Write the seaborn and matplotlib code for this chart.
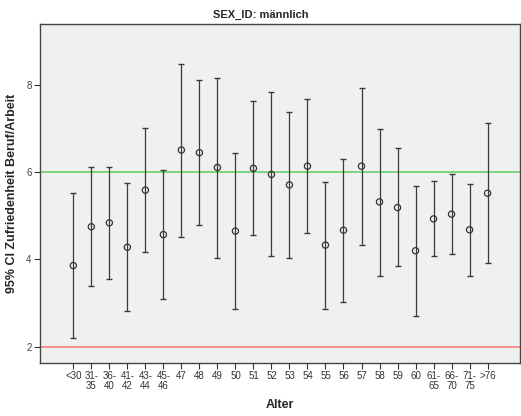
import numpy as np
import pandas as pd
import matplotlib
matplotlib.use("Agg")
import matplotlib.pyplot as plt
import seaborn as sns

categories = ["<30", "31-\n35", "36-\n40", "41-\n42", "43-\n44", "45-\n46", "47", "48", "49", "50",
              "51", "52", "53", "54", "55", "56", "57", "58", "59", "60",
              "61-\n65", "66-\n70", "71-\n75", ">76"]
means = [3.86, 4.75, 4.84, 4.28, 5.59, 4.57, 6.51, 6.45, 6.11, 4.65,
         6.09, 5.95, 5.71, 6.14, 4.33, 4.67, 6.14, 5.32, 5.19, 4.20,
         4.93, 5.04, 4.68, 5.52]
upper = [5.53, 6.11, 6.11, 5.75, 7.02, 6.05, 8.49, 8.11, 8.16, 6.44,
         7.64, 7.85, 7.39, 7.67, 5.77, 6.31, 7.93, 7.00, 6.55, 5.69,
         5.79, 5.97, 5.72, 7.14]
lower = [2.19, 3.39, 3.56, 2.81, 4.17, 3.10, 4.52, 4.80, 4.04, 2.86,
         4.55, 4.07, 4.03, 4.60, 2.87, 3.02, 4.34, 3.63, 3.84, 2.70,
         4.07, 4.12, 3.62, 3.91]
ref_lines = [6, 2]
ref_colors = ["#66d066", "#f57f7f"]
yticks = [2, 4, 6, 8]

sns.set_theme(style="white")
plt.rcParams["font.family"] = ["Liberation Sans", "DejaVu Sans"]

df = pd.DataFrame({"Alter": categories, "mean": means, "lo": lower, "hi": upper})
df["pos"] = np.arange(len(df))

fig = plt.figure(figsize=(5.21, 4.16), dpi=100)
ax = fig.add_axes([40 / 521, 53 / 416, 480 / 521, 339 / 416])
ax.set_facecolor("#f0f0f0")

for y, c in zip(ref_lines, ref_colors):
    ax.axhline(y, color=c, lw=1.2, zorder=1)

ax.errorbar(df["pos"], df["mean"],
            yerr=[df["mean"] - df["lo"], df["hi"] - df["mean"]],
            fmt="none", ecolor="#3a3a3a", elinewidth=0.9, capsize=2.0, capthick=1.0, zorder=2)
sns.scatterplot(data=df, x="pos", y="mean", ax=ax, marker="o", s=20,
                facecolor="none", edgecolor="#333333", linewidth=0.9, zorder=3, legend=False)

ax.set_xlim(-1.85, 24.8)
ax.set_ylim(1.626, 9.40)
ax.set_xticks(df["pos"])
ax.set_xticklabels(categories, fontsize=7, color="#333333", linespacing=0.95)
ax.set_yticks(yticks)
ax.set_yticklabels([str(t) for t in yticks], fontsize=7, color="#444444")
ax.tick_params(axis="both", direction="out", length=4, width=0.8, color="#333333", pad=2,
               bottom=True, left=True)
for s in ax.spines.values():
    s.set_color("#444444")
    s.set_linewidth(1.0)

ax.set_xlabel("Alter", fontsize=9, fontweight="bold", labelpad=6)
ax.set_ylabel("95% CI Zufriedenheit Beruf/Arbeit", fontsize=9, fontweight="bold", labelpad=6)
fig.text(0.5, 1 - 15 / 416, "SEX_ID: männlich", ha="center", va="center",
         fontsize=8, fontweight="bold")

fig.savefig("out.png", dpi=100, facecolor="white")
